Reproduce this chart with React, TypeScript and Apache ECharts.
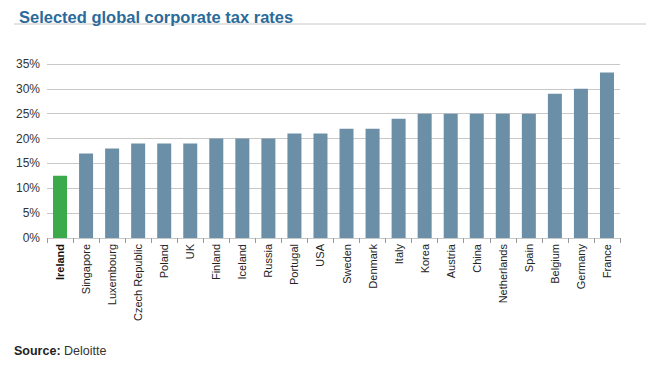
import React, { useEffect, useRef } from "react";
import * as echarts from "echarts";

const categories = [
  "Ireland", "Singapore", "Luxembourg", "Czech Republic", "Poland", "UK", "Finland", "Iceland",
  "Russia", "Portugal", "USA", "Sweden", "Denmark", "Italy", "Korea", "Austria", "China",
  "Netherlands", "Spain", "Belgium", "Germany", "France",
];
const taxRates = [12.5, 17, 18, 19, 19, 19, 20, 20, 20, 21, 21, 22, 22, 24, 25, 25, 25, 25, 25, 29, 30, 33.3];
const highlighted = "Ireland";
const yTicks = [0, 5, 10, 15, 20, 25, 30, 35];

export default function App() {
  const ref = useRef<HTMLDivElement>(null);
  useEffect(() => {
    if (!ref.current) return;
    const chart = echarts.init(ref.current, undefined, { renderer: "svg" });
    chart.setOption({
      animation: false,
      backgroundColor: "#ffffff",
      textStyle: { fontFamily: "Liberation Sans, Arial, sans-serif" },
      title: {
        text: "Selected global corporate tax rates",
        left: 14,
        top: 3,
        textStyle: { color: "#2a6b9b", fontSize: 16.5, fontWeight: "bold", fontFamily: "Liberation Sans, Arial, sans-serif" },
      },
      graphic: [
        { type: "line", shape: { x1: 14, y1: 24, x2: 654, y2: 24 }, style: { stroke: "#c8c8c8", lineWidth: 1 } },
        {
          type: "text",
          left: 14,
          top: 344,
          style: {
            text: "{b|Source:} Deloitte",
            rich: {
              b: { fontWeight: "bold", fontSize: 12.5, fill: "#222", fontFamily: "Liberation Sans, Arial, sans-serif" },
            },
            fontSize: 12.5,
            fill: "#333",
            fontFamily: "Liberation Sans, Arial, sans-serif",
          },
        },
      ],
      grid: { left: 47, right: 34, top: 64, bottom: 127, containLabel: false },
      xAxis: {
        type: "category",
        data: categories,
        axisLine: { show: false },
        axisTick: { show: true, alignWithLabel: false, length: 5, lineStyle: { color: "#999" } },
        axisLabel: {
          rotate: 90,
          interval: 0,
          margin: 6,
          fontSize: 11,
          color: "#222",
          formatter: (v: string) => (v === highlighted ? "{b|" + v + "}" : v),
          rich: { b: { fontWeight: "bold", fontSize: 11, color: "#111" } },
        },
      },
      yAxis: {
        type: "value",
        min: yTicks[0],
        max: yTicks[yTicks.length - 1],
        interval: 5,
        axisLine: { show: false },
        axisTick: { show: false },
        axisLabel: { formatter: "{value}%", fontSize: 12, color: "#333", margin: 7 },
        splitLine: { lineStyle: { color: "#c8c8c8", width: 1 } },
      },
      series: [
        {
          type: "bar",
          data: taxRates.map((v, i) => ({
            value: v,
            itemStyle: { color: categories[i] === highlighted ? "#3aaa4a" : "#6b8fa7" },
          })),
          barWidth: 14,
        },
      ],
    });
    return () => chart.dispose();
  }, []);
  return <div ref={ref} style={{ width: 654, height: 365, margin: -8 }} />;
}
